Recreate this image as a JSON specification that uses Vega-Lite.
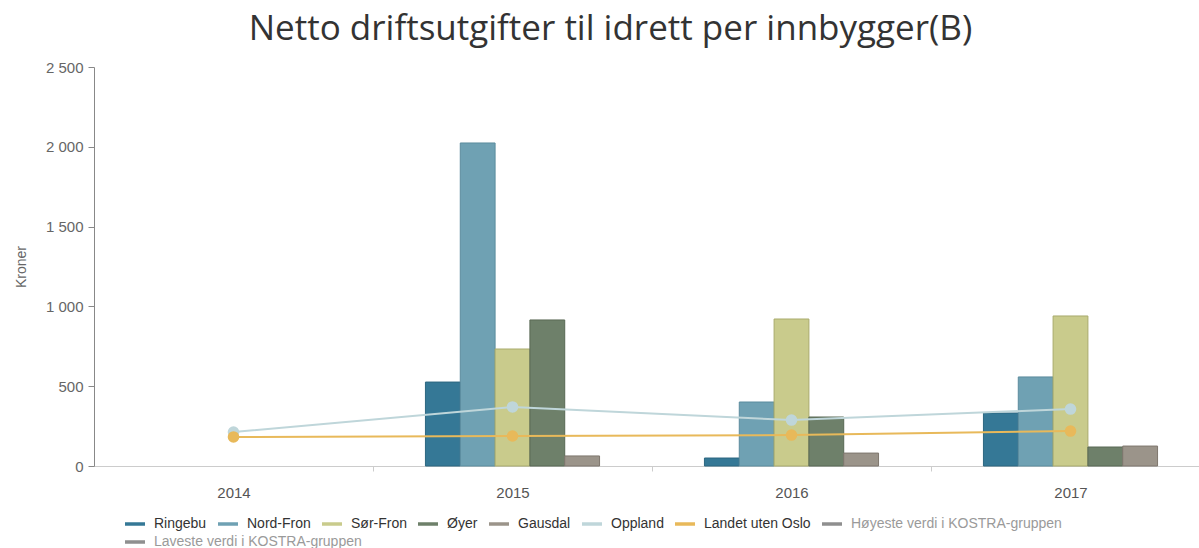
{
  "$schema": "https://vega.github.io/schema/vega-lite/v6.json",
  "autosize": "none",
  "width": 1105,
  "height": 399,
  "padding": {"left": 94, "top": 67, "right": 0, "bottom": 82},
  "background": "white",
  "title": {
    "text": "Netto driftsutgifter til idrett per innbygger(B)",
    "font": "Open Sans",
    "fontSize": 35,
    "fontWeight": "normal",
    "color": "#333333",
    "anchor": "middle",
    "dx": -36,
    "offset": 13
  },
  "config": {
    "view": {"stroke": null},
    "font": "Liberation Sans"
  },
  "data": {
    "values": [
      {"year": "2015", "name": "Ringebu", "value": 526, "kind": "bar"},
      {"year": "2015", "name": "Nord-Fron", "value": 2024, "kind": "bar"},
      {"year": "2015", "name": "Sør-Fron", "value": 733, "kind": "bar"},
      {"year": "2015", "name": "Øyer", "value": 915, "kind": "bar"},
      {"year": "2015", "name": "Gausdal", "value": 63, "kind": "bar"},
      {"year": "2016", "name": "Ringebu", "value": 50, "kind": "bar"},
      {"year": "2016", "name": "Nord-Fron", "value": 401, "kind": "bar"},
      {"year": "2016", "name": "Sør-Fron", "value": 921, "kind": "bar"},
      {"year": "2016", "name": "Øyer", "value": 307, "kind": "bar"},
      {"year": "2016", "name": "Gausdal", "value": 81, "kind": "bar"},
      {"year": "2017", "name": "Ringebu", "value": 332, "kind": "bar"},
      {"year": "2017", "name": "Nord-Fron", "value": 558, "kind": "bar"},
      {"year": "2017", "name": "Sør-Fron", "value": 940, "kind": "bar"},
      {"year": "2017", "name": "Øyer", "value": 119, "kind": "bar"},
      {"year": "2017", "name": "Gausdal", "value": 125, "kind": "bar"},
      {"year": "2014", "name": "Oppland", "value": 213, "kind": "line"},
      {"year": "2015", "name": "Oppland", "value": 370, "kind": "line"},
      {"year": "2016", "name": "Oppland", "value": 288, "kind": "line"},
      {"year": "2017", "name": "Oppland", "value": 357, "kind": "line"},
      {"year": "2014", "name": "Landet uten Oslo", "value": 182, "kind": "line"},
      {"year": "2015", "name": "Landet uten Oslo", "value": 188, "kind": "line"},
      {"year": "2016", "name": "Landet uten Oslo", "value": 194, "kind": "line"},
      {"year": "2017", "name": "Landet uten Oslo", "value": 219, "kind": "line"},
      {"year": "2014", "name": "Laveste verdi i KOSTRA-gruppen", "value": null, "kind": "dummy"}
    ]
  },
  "encoding": {
    "x": {
      "field": "year",
      "type": "nominal",
      "scale": {
        "type": "band",
        "domain": ["2014", "2015", "2016", "2017"],
        "range": [0, 1116],
        "paddingInner": 0.376,
        "paddingOuter": 0.188
      },
      "axis": {
        "title": null,
        "labelAngle": 0,
        "labelFont": "Liberation Sans",
        "labelFontSize": 15,
        "labelColor": "#555555",
        "labelPadding": 14,
        "domainColor": "#cccccc",
        "tickColor": "#cccccc",
        "tickSize": 5,
        "tickOffset": 139.5,
        "labelOffset": -139.5,
        "grid": false
      }
    },
    "y": {
      "field": "value",
      "type": "quantitative",
      "scale": {"domain": [0, 2500], "nice": false},
      "axis": {
        "title": "Kroner",
        "titleFont": "Liberation Sans",
        "titleFontSize": 14,
        "titleFontWeight": "normal",
        "titleColor": "#666666",
        "titlePadding": 17,
        "values": [0, 500, 1000, 1500, 2000, 2500],
        "labelExpr": "replace(format(datum.value, ','), ',', ' ')",
        "labelFont": "Liberation Sans",
        "labelFontSize": 15,
        "labelColor": "#666666",
        "labelPadding": 5,
        "domainColor": "#888888",
        "tickColor": "#888888",
        "tickSize": 6,
        "grid": false
      }
    },
    "color": {
      "field": "name",
      "type": "nominal",
      "scale": {
        "domain": ["Ringebu", "Nord-Fron", "Sør-Fron", "Øyer", "Gausdal", "Oppland", "Landet uten Oslo", "Høyeste verdi i KOSTRA-gruppen"],
        "range": ["#357896", "#6fa1b3", "#c9cb8c", "#6e806a", "#9b948a", "#bfd6da", "#e8b95a", "#8f8f8f"]
      },
      "legend": {
        "title": null,
        "orient": "none",
        "legendX": 29,
        "legendY": 445,
        "direction": "horizontal",
        "symbolType": "stroke",
        "symbolSize": 400,
        "symbolStrokeWidth": 3.5,
        "labelFont": "Liberation Sans",
        "labelFontSize": 14,
        "labelOffset": 7,
        "columnPadding": 4,
        "labelLimit": 400,
        "encode": {
          "symbols": {
            "update": {
              "stroke": {"scale": "color", "field": "value"},
              "fill": {"value": "transparent"},
              "strokeWidth": {"value": 3.5},
              "opacity": {"value": 1}
            }
          },
          "labels": {
            "update": {
              "fill": {"signal": "indexof(datum.label, 'KOSTRA') >= 0 ? '#9a9a9a' : '#333333'"}
            }
          }
        }
      }
    }
  },
  "layer": [
    {
      "transform": [{"filter": "datum.kind === 'bar'"}],
      "mark": {"type": "bar", "strokeWidth": 1, "opacity": 1},
      "encoding": {
        "xOffset": {
          "field": "name",
          "type": "nominal",
          "scale": {"domain": ["Ringebu", "Nord-Fron", "Sør-Fron", "Øyer", "Gausdal"], "paddingInner": 0, "paddingOuter": 0}
        },
        "stroke": {
          "field": "name",
          "type": "nominal",
          "scale": {
            "domain": ["Ringebu", "Nord-Fron", "Sør-Fron", "Øyer", "Gausdal"],
            "range": ["#2c6680", "#5b8c9e", "#a9ab6c", "#586854", "#7e776e"]
          },
          "legend": null
        }
      }
    },
    {
      "transform": [{"filter": "datum.kind === 'line'"}],
      "mark": {"type": "line", "strokeWidth": 2},
      "encoding": {}
    },
    {
      "transform": [{"filter": "datum.kind === 'line'"}],
      "mark": {"type": "point", "shape": "circle", "filled": true, "size": 135, "opacity": 1},
      "encoding": {}
    },
    {
      "transform": [{"filter": "datum.kind === 'dummy'"}],
      "mark": {"type": "line", "strokeWidth": 2},
      "encoding": {
        "color": {"value": "#8f8f8f"},
        "strokeDash": {
          "field": "name",
          "type": "nominal",
          "scale": {"domain": ["Laveste verdi i KOSTRA-gruppen"], "range": [[1, 0]]},
          "legend": {
            "title": null,
            "orient": "none",
            "legendX": 29,
            "legendY": 463,
            "direction": "horizontal",
            "symbolType": "stroke",
            "symbolSize": 400,
            "symbolStrokeWidth": 3.5,
            "labelFont": "Liberation Sans",
            "labelFontSize": 14,
            "labelOffset": 7,
            "labelLimit": 400,
            "labelColor": "#9a9a9a",
            "encode": {
              "symbols": {
                "update": {
                  "stroke": {"value": "#8f8f8f"},
                  "fill": {"value": "transparent"},
                  "strokeWidth": {"value": 3.5},
                  "strokeDash": {"value": [1, 0]},
                  "opacity": {"value": 1}
                }
              }
            }
          }
        }
      }
    }
  ]
}
